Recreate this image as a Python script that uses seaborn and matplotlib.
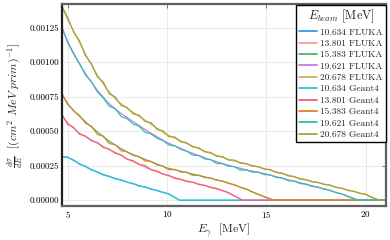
"""
Photon spectra dsigma/dE for several beam energies, FLUKA vs Geant4
"""

import pandas as pd
import numpy as np
import matplotlib.pyplot as plt
import seaborn as sns

# ---------- data ----------
BEAMS = ["10.634", "13.801", "15.383", "19.621", "20.678"]
ENDPOINTS = [10.634, 13.801, 15.383, 19.621, 20.678]
E_MAX = 21.0

# FLUKA: smooth curves
fluka_e_10 = [4.7, 5.0, 5.5, 6.0, 6.5, 7.0, 7.5, 8.0, 8.5, 9.0, 9.5, 10.0, 10.3]
fluka_y_10 = [31.8e-5, 31.2e-5, 27.2e-5, 23.6e-5, 20.3e-5, 17.6e-5, 15.3e-5,
              13.2e-5, 11.0e-5, 9.0e-5, 7.0e-5, 5.0e-5, 3.0e-5]

fluka_e_13 = [4.7, 5.0, 5.5, 6.0, 6.5, 7.0, 7.5, 8.0, 9.0, 10.0, 11.0, 12.0, 13.0, 13.4]
fluka_y_13 = [62.0e-5, 56.0e-5, 49.5e-5, 45.2e-5, 41.3e-5, 37.2e-5, 34.0e-5,
              30.0e-5, 23.2e-5, 18.0e-5, 14.0e-5, 10.3e-5, 6.0e-5, 3.2e-5]

fluka_e_15 = [4.7, 5.0, 5.5, 6.0, 6.5, 7.0, 7.5, 8.0, 9.0, 10.0, 11.0, 12.0,
              13.0, 14.0, 14.6]
fluka_y_15 = [77.0e-5, 69.5e-5, 62.2e-5, 55.5e-5, 49.5e-5, 43.7e-5, 39.0e-5,
              34.8e-5, 29.0e-5, 23.4e-5, 20.0e-5, 16.6e-5, 13.0e-5, 8.0e-5, 4.2e-5]

fluka_e_19 = [4.7, 5.0, 5.5, 6.0, 6.5, 7.0, 7.5, 8.0, 9.0, 10.0, 11.0, 12.0,
              13.0, 14.0, 15.0, 16.0, 17.0, 18.0, 19.0]
fluka_y_19 = [125.5e-5, 115.0e-5, 101.0e-5, 89.5e-5, 79.5e-5, 71.2e-5, 64.8e-5,
              59.8e-5, 50.2e-5, 41.8e-5, 35.6e-5, 30.2e-5, 25.7e-5, 22.0e-5,
              19.0e-5, 15.2e-5, 11.6e-5, 8.0e-5, 3.6e-5]

fluka_e_20 = [4.7, 5.0, 5.5, 6.0, 6.5, 7.0, 7.5, 8.0, 9.0, 10.0, 11.0, 12.0,
              13.0, 14.0, 15.0, 16.0, 17.0, 18.0, 19.0, 20.0]
fluka_y_20 = [140.0e-5, 131.0e-5, 117.0e-5, 103.0e-5, 90.5e-5, 80.0e-5, 72.0e-5,
              66.5e-5, 57.0e-5, 47.5e-5, 41.0e-5, 35.0e-5, 30.0e-5, 26.2e-5,
              22.6e-5, 18.5e-5, 14.6e-5, 11.5e-5, 7.8e-5, 4.2e-5]

# Geant4: noisier histograms on a 0.3 MeV grid (only bins below the endpoint)
g4_e = [4.7, 5.0, 5.3, 5.6, 5.9, 6.2, 6.5, 6.8, 7.1, 7.4, 7.7, 8.0, 8.3, 8.6,
        8.9, 9.2, 9.5, 9.8, 10.1, 10.4, 10.7, 11.0, 11.3, 11.6, 11.9, 12.2,
        12.5, 12.8, 13.1, 13.4, 13.7, 14.0, 14.3, 14.6, 14.9, 15.2, 15.5, 15.8,
        16.1, 16.4, 16.7, 17.0, 17.3, 17.6, 17.9, 18.2, 18.5, 18.8, 19.1, 19.4,
        19.7, 20.0, 20.3, 20.6]

g4_y_10 = [31.5e-5, 31.0e-5, 29.2e-5, 26.0e-5, 24.6e-5, 21.8e-5, 20.6e-5,
           18.2e-5, 17.4e-5, 15.5e-5, 14.8e-5, 13.0e-5, 12.2e-5, 10.2e-5,
           9.7e-5, 8.0e-5, 7.2e-5, 5.6e-5, 4.6e-5, 2.0e-5]

g4_y_13 = [62.5e-5, 55.0e-5, 52.8e-5, 47.8e-5, 46.5e-5, 43.0e-5, 41.8e-5,
           38.2e-5, 37.0e-5, 34.0e-5, 32.8e-5, 29.6e-5, 28.6e-5, 26.0e-5,
           25.1e-5, 22.2e-5, 21.2e-5, 18.9e-5, 18.0e-5, 15.8e-5, 15.0e-5,
           13.6e-5, 13.1e-5, 11.4e-5, 10.8e-5, 9.2e-5, 8.6e-5, 7.0e-5, 5.5e-5,
           3.0e-5, 0.9e-5]

g4_y_15 = [77.5e-5, 70.2e-5, 64.6e-5, 61.5e-5, 55.8e-5, 53.6e-5, 47.6e-5,
           46.4e-5, 41.0e-5, 40.3e-5, 35.8e-5, 35.2e-5, 32.4e-5, 31.6e-5,
           28.4e-5, 28.2e-5, 25.6e-5, 24.8e-5, 22.0e-5, 22.3e-5, 20.4e-5,
           20.3e-5, 18.0e-5, 18.2e-5, 16.4e-5, 16.1e-5, 14.5e-5, 13.9e-5,
           12.2e-5, 11.2e-5, 9.3e-5, 8.1e-5, 5.9e-5, 4.4e-5, 2.4e-5, 1.0e-5]

g4_y_19 = [125.8e-5, 114.2e-5, 106.0e-5, 99.0e-5, 90.6e-5, 85.8e-5, 78.4e-5,
           74.0e-5, 68.0e-5, 66.3e-5, 60.6e-5, 59.0e-5, 55.2e-5, 53.6e-5,
           49.2e-5, 48.0e-5, 44.9e-5, 43.2e-5, 40.0e-5, 39.4e-5, 36.8e-5,
           35.5e-5, 32.6e-5, 32.4e-5, 29.9e-5, 29.4e-5, 26.6e-5, 26.5e-5,
           24.6e-5, 24.3e-5, 21.8e-5, 21.9e-5, 20.3e-5, 20.4e-5, 18.6e-5,
           18.3e-5, 16.5e-5, 16.1e-5, 14.2e-5, 13.9e-5, 12.1e-5, 11.7e-5,
           10.0e-5, 9.5e-5, 8.0e-5, 7.2e-5, 5.5e-5, 4.6e-5, 2.7e-5, 1.2e-5]

g4_y_20 = [141.0e-5, 132.5e-5, 121.8e-5, 115.5e-5, 104.6e-5, 98.8e-5, 89.2e-5,
           85.6e-5, 77.0e-5, 74.8e-5, 68.6e-5, 67.2e-5, 62.4e-5, 61.6e-5,
           57.0e-5, 56.2e-5, 51.3e-5, 50.2e-5, 46.0e-5, 45.8e-5, 42.2e-5,
           41.6e-5, 38.5e-5, 38.0e-5, 35.0e-5, 34.6e-5, 31.8e-5, 31.6e-5,
           29.0e-5, 29.1e-5, 26.8e-5, 26.6e-5, 24.6e-5, 24.4e-5, 22.5e-5,
           22.2e-5, 20.1e-5, 19.7e-5, 17.6e-5, 17.3e-5, 15.3e-5, 15.0e-5,
           13.3e-5, 13.0e-5, 11.4e-5, 11.1e-5, 9.3e-5, 8.8e-5, 7.1e-5, 6.5e-5,
           5.0e-5, 4.4e-5, 2.1e-5, 0.6e-5]

FLUKA = [(fluka_e_10, fluka_y_10), (fluka_e_13, fluka_y_13), (fluka_e_15, fluka_y_15),
         (fluka_e_19, fluka_y_19), (fluka_e_20, fluka_y_20)]
GEANT4 = [g4_y_10, g4_y_13, g4_y_15, g4_y_19, g4_y_20]

FLUKA_COLORS = ["#2b9ef0", "#f4a08a", "#52b561", "#cc7ae4", "#c9b26a"]
G4_COLORS = ["#31c4d6", "#f0607f", "#d8862a", "#2ec2ae", "#a9a233"]

# ---------- long-format table ----------
rows = []
for beam, end, (e, y) in zip(BEAMS, ENDPOINTS, FLUKA):
    for xi, yi in zip(list(e) + [end, E_MAX], list(y) + [0.0, 0.0]):
        rows.append((xi, yi, f"{beam} FLUKA"))
for beam, end, y in zip(BEAMS, ENDPOINTS, GEANT4):
    e = g4_e[:len(y)]
    for xi, yi in zip(list(e) + [end, E_MAX], list(y) + [0.0, 0.0]):
        rows.append((xi, yi, f"{beam} Geant4"))
df = pd.DataFrame(rows, columns=["E", "dsdE", "label"])

labels = [f"{b} FLUKA" for b in BEAMS] + [f"{b} Geant4" for b in BEAMS]
palette = dict(zip(labels, FLUKA_COLORS + G4_COLORS))

# ---------- style ----------
sns.set_style("whitegrid")
plt.rcParams["font.family"] = ["cmr10"]
plt.rcParams["mathtext.fontset"] = "cm"
plt.rcParams["axes.unicode_minus"] = False
plt.rcParams["axes.formatter.use_mathtext"] = True

fig = plt.figure(figsize=(3.9, 2.4), dpi=100)
ax = fig.add_axes([0.158, 0.142, 0.833, 0.841])

sns.lineplot(data=df, x="E", y="dsdE", hue="label", hue_order=labels,
             palette=palette, sort=False, estimator=None, linewidth=0.9, ax=ax)

ax.set_xlim(4.7, 21.05)
ax.set_ylim(-0.000041, 0.00142)
ax.set_xticks([5, 10, 15, 20])
ax.set_yticks([0.0, 0.00025, 0.0005, 0.00075, 0.001, 0.00125])
ax.set_yticklabels(["0.00000", "0.00025", "0.00050", "0.00075", "0.00100", "0.00125"])

ax.grid(True, color="#e6e6e6", linewidth=0.6)
for s in ax.spines.values():
    s.set_color("#606060")
    s.set_linewidth(1.6)
ax.spines["left"].set_color("#202020")
ax.tick_params(direction="in", length=3, width=0.6, colors="#606060",
               labelcolor="black", labelsize=6.5, top=True, right=True, pad=2)

ax.set_xlabel(r"$E_\gamma$  [MeV]", fontsize=8.5, labelpad=1)
ax.set_ylabel(r"$\frac{d\sigma}{dE}$  $[(cm^2\ MeV\ prim)^{-1}]$", fontsize=8.5, labelpad=2)

leg = ax.legend(title=r"$E_{beam}$ [MeV]", loc="upper right", fontsize=6.8,
                title_fontsize=8.8, frameon=True, fancybox=False, framealpha=1,
                edgecolor="black", handlelength=1.9, handletextpad=0.3,
                labelspacing=0.29, borderpad=0.3, borderaxespad=0.1)
leg.get_frame().set_linewidth(1.0)
for line in leg.get_lines():
    line.set_linewidth(1.3)

fig.savefig("out.png", dpi=100)
